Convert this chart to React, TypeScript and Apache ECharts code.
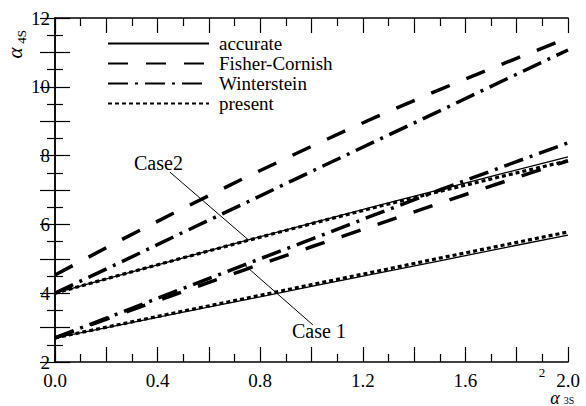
import React, { useEffect, useRef } from "react";
import * as echarts from "echarts";

const xs = [0, 0.25, 0.5, 0.75, 1.0, 1.25, 1.5, 1.75, 2.0];
const accurateCase1 = [2.70, 3.07, 3.45, 3.82, 4.20, 4.57, 4.94, 5.32, 5.69];
const accurateCase2 = [4.00, 4.52, 5.03, 5.54, 6.04, 6.53, 7.01, 7.49, 7.96];
const fisherCase1 = [2.70, 3.38, 4.05, 4.71, 5.35, 5.98, 6.62, 7.24, 7.85];
const fisherCase2 = [4.53, 5.52, 6.47, 7.39, 8.27, 9.12, 9.92, 10.68, 11.42];
const wintersteinCase1 = [2.70, 3.42, 4.14, 4.86, 5.57, 6.29, 7.00, 7.69, 8.37];
const wintersteinCase2 = [4.00, 4.88, 5.77, 6.65, 7.54, 8.42, 9.30, 10.19, 11.07];
const presentCase1 = [2.70, 3.09, 3.48, 3.86, 4.25, 4.63, 5.02, 5.40, 5.78];
const presentCase2 = [4.00, 4.52, 5.03, 5.53, 6.02, 6.50, 6.96, 7.41, 7.85];
const seriesNames = ["accurate", "Fisher-Cornish", "Winterstein", "present"];
const case2Leader = [[0.448, 7.52], [0.754, 5.55]];
const case1Leader = [[0.742, 4.8], [1.005, 3.08]];

const FAMILY = "Liberation Serif";
const FONT = "Liberation Serif";

const pairs = (ys: number[]) => xs.map((x, i) => [x, ys[i]]);

const styles: Record<string, any> = {
  accurate: { color: "#000", width: 1.3, type: "solid" },
  "Fisher-Cornish": { color: "#000", width: 3.5, type: [20, 18] },
  Winterstein: { color: "#000", width: 3.5, type: [20, 7, 3, 7] },
  present: { color: "#000", width: 3.2, type: [4, 3] },
};

function mkSeries(name: string, ys: number[], extra: any = {}) {
  return {
    type: "line",
    name,
    data: pairs(ys),
    symbol: "none",
    showSymbol: false,
    smooth: false,
    lineStyle: { ...styles[name], cap: "butt" },
    itemStyle: { color: "#000" },
    ...extra,
  };
}

const leaderStyle = { color: "#000", width: 1, type: "solid" };

function leader(coords: number[][]) {
  return {
    silent: true,
    symbol: ["none", "none"],
    label: { show: false },
    lineStyle: leaderStyle,
    data: [[{ coord: coords[0] }, { coord: coords[1] }]],
  };
}

export default function App() {
  const ref = useRef<HTMLDivElement>(null);
  useEffect(() => {
    if (!ref.current) return;
    const chart = echarts.init(ref.current, undefined, { renderer: "svg" });
    const axisLine = { show: true, lineStyle: { color: "#000", width: 1.5 } };
    const tick = { show: true, inside: true, length: 15, lineStyle: { color: "#000", width: 1.2 } };
    const minor = { show: true, splitNumber: 2, length: 8, lineStyle: { color: "#000", width: 1.2 } };
    const xLabel = {
      show: true,
      fontSize: 19,
      lineHeight: 15,
      fontFamily: FAMILY,
      color: "#000",
      margin: 11,
      formatter: (v: number) => {
        const r = v / 0.4;
        return Math.abs(r - Math.round(r)) < 1e-6 ? v.toFixed(1) : "";
      },
    };
    const yLabel = {
      show: true,
      fontSize: 19,
      lineHeight: 14,
      fontFamily: FAMILY,
      color: "#000",
      margin: 5,
      formatter: (v: number) => (Math.round(v) % 2 === 0 ? String(Math.round(v)) : ""),
    };
    chart.setOption({
      animation: false,
      backgroundColor: "#fff",
      textStyle: { fontFamily: FAMILY, color: "#000" },
      grid: { left: 55, right: 18, top: 18, bottom: 44, containLabel: false },
      legend: {
        data: seriesNames,
        orient: "vertical",
        left: 102,
        top: 29,
        itemWidth: 101,
        itemHeight: 14,
        itemGap: 1,
        selectedMode: false,
        itemStyle: { opacity: 0, borderWidth: 0 },
        textStyle: { fontSize: 19, fontFamily: FAMILY, color: "#000", lineHeight: 18, padding: [0, 0, 0, 5] },
      },
      xAxis: [
        {
          type: "value", min: 0, max: 2, interval: 0.2, position: "bottom",
          axisLine, axisTick: tick, minorTick: minor,
          splitLine: { show: false }, minorSplitLine: { show: false },
          axisLabel: xLabel,
        },
        {
          type: "value", min: 0, max: 2, interval: 0.2, position: "top",
          axisLine, axisTick: tick, minorTick: minor,
          splitLine: { show: false }, minorSplitLine: { show: false },
          axisLabel: { show: false },
        },
      ],
      yAxis: [
        {
          type: "value", min: 2, max: 12, interval: 1, position: "left",
          axisLine, axisTick: tick, minorTick: minor,
          splitLine: { show: false }, minorSplitLine: { show: false },
          axisLabel: yLabel,
        },
        {
          type: "value", min: 2, max: 12, interval: 1, position: "right",
          axisLine, axisTick: tick, minorTick: minor,
          splitLine: { show: false }, minorSplitLine: { show: false },
          axisLabel: { show: false },
        },
      ],
      series: [
        mkSeries("accurate", accurateCase1),
        mkSeries("accurate", accurateCase2, { markLine: leader(case2Leader) }),
        mkSeries("Fisher-Cornish", fisherCase1),
        mkSeries("Fisher-Cornish", fisherCase2),
        mkSeries("Winterstein", wintersteinCase1, { markLine: leader(case1Leader) }),
        mkSeries("Winterstein", wintersteinCase2),
        mkSeries("present", presentCase1),
        mkSeries("present", presentCase2),
      ],
      graphic: [
        { type: "text", left: 134, top: 153, style: { text: "Case2", font: `20px ${FONT}`, fill: "#000" } },
        { type: "text", left: 292, top: 321, style: { text: "Case 1", font: `20px ${FONT}`, fill: "#000" } },
        { type: "text", x: 15, y: 53, rotation: Math.PI / 2, style: { text: "α", font: `italic 21px ${FONT}`, fill: "#000", align: "center", verticalAlign: "middle" } },
        { type: "text", x: 21, y: 37, rotation: Math.PI / 2, style: { text: "4S", font: `13px ${FONT}`, fill: "#000", align: "center", verticalAlign: "middle" } },
        { type: "text", x: 542, y: 372, style: { text: "2", font: `13px ${FONT}`, fill: "#000", align: "center", verticalAlign: "middle" } },
        { type: "text", x: 555, y: 397.5, style: { text: "α", font: `italic 18px ${FONT}`, fill: "#000", align: "center", verticalAlign: "middle" } },
        { type: "text", x: 569, y: 400.5, style: { text: "3S", font: `10px ${FONT}`, fill: "#000", align: "center", verticalAlign: "middle" } },
      ],
    });
    return () => chart.dispose();
  }, []);
  return <div ref={ref} style={{ width: 586, height: 406, position: "absolute", left: 0, top: 0 }} />;
}
